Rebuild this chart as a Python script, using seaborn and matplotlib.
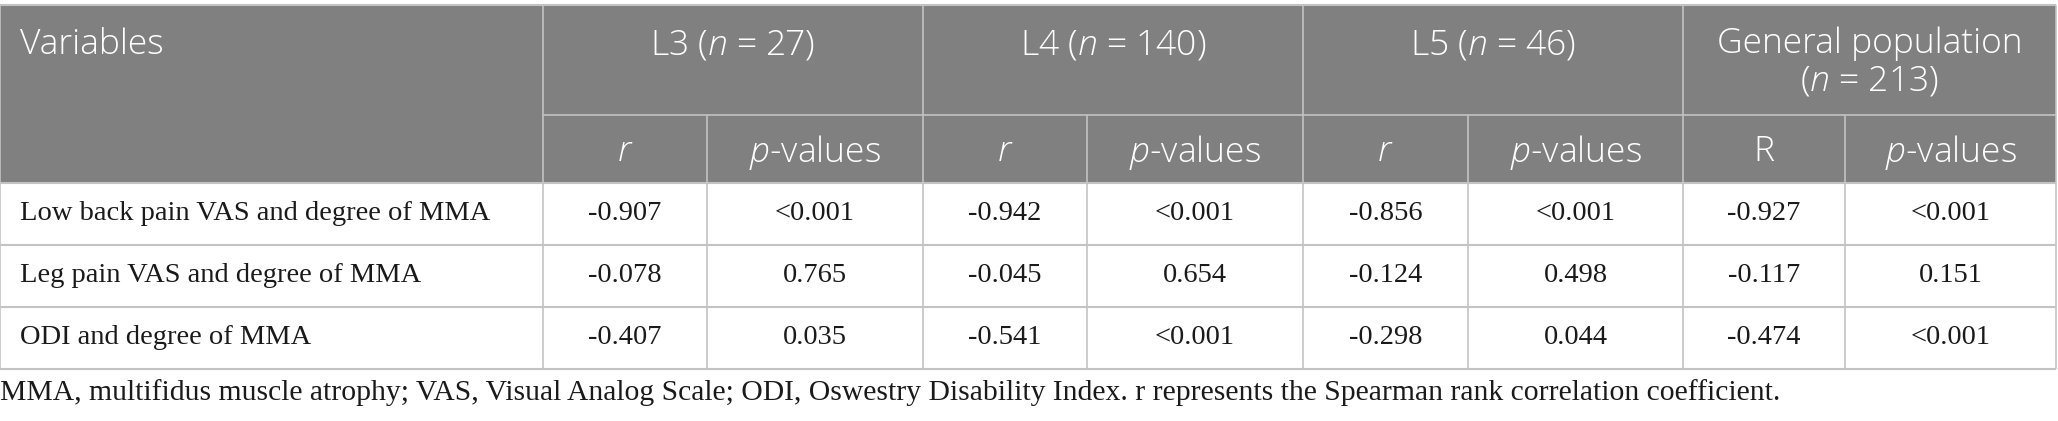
import numpy as np
import pandas as pd
import matplotlib
matplotlib.use("Agg")
import matplotlib.pyplot as plt
import seaborn as sns

# table content
variables = ["Low back pain VAS and degree of MMA",
             "Leg pain VAS and degree of MMA",
             "ODI and degree of MMA"]
groups = ["L3", "L4", "L5", "General population"]
group_n = [27, 140, 46, 213]
r_L3 = ["-0.907", "-0.078", "-0.407"]
p_L3 = ["<0.001", "0.765", "0.035"]
r_L4 = ["-0.942", "-0.045", "-0.541"]
p_L4 = ["<0.001", "0.654", "<0.001"]
r_L5 = ["-0.856", "-0.124", "-0.298"]
p_L5 = ["<0.001", "0.498", "0.044"]
r_all = ["-0.927", "-0.117", "-0.474"]
p_all = ["<0.001", "0.151", "<0.001"]
sub_heads = ["$r$", "$p$-values", "$r$", "$p$-values", "$r$", "$p$-values", "R", "$p$-values"]
footnote = ("MMA, multifidus muscle atrophy; VAS, Visual Analog Scale; ODI, Oswestry Disability Index. "
            "r represents the Spearman rank correlation coefficient.")

df = pd.DataFrame({"r_L3": r_L3, "p_L3": p_L3, "r_L4": r_L4, "p_L4": p_L4,
                   "r_L5": r_L5, "p_L5": p_L5, "r_all": r_all, "p_all": p_all},
                  index=variables)

sns.set_theme(style="white")
plt.rcParams["mathtext.fontset"] = "custom"
plt.rcParams["mathtext.it"] = "Open Sans:italic:light"
plt.rcParams["mathtext.rm"] = "Open Sans:light"

HEAD_BG = "#7f807f"
LINE = "#c3c3c3"
SANS = "Open Sans"
SERIF = "Liberation Serif"
HFS = 25.5

# layout in pixels
col_x = [0, 543, 707, 923, 1087, 1303, 1468, 1683, 1845, 2056]
top, mid, head_bot = 5, 115, 183
row_y = [183, 245, 307, 369]

fig = plt.figure(figsize=(20.58, 4.21), dpi=100)
ax = fig.add_axes([0, 0, 1, 1])
ax.set_xlim(0, 2058)
ax.set_ylim(421, 0)
ax.axis("off")

ax.add_patch(plt.Rectangle((col_x[0], top), col_x[-1] - col_x[0], head_bot - top,
                           facecolor=HEAD_BG, edgecolor="none"))

# grid lines
ax.hlines([top], col_x[0], col_x[-1], color=LINE, lw=1.5)
ax.hlines([mid], col_x[1], col_x[-1], color=LINE, lw=1.2)
ax.hlines(row_y, col_x[0], col_x[-1], color=LINE, lw=1.5)
ax.vlines([col_x[0], col_x[1], col_x[3], col_x[5], col_x[7], col_x[-1]], top, row_y[-1], color=LINE, lw=1.2)
ax.vlines([col_x[2], col_x[4], col_x[6], col_x[8]], mid, row_y[-1], color=LINE, lw=1.2)

# header
hkw = dict(color="white", fontsize=HFS, family=SANS, weight="light")
ax.text(20, 45, "Variables", ha="left", va="center", **hkw)
for i, (g, n) in enumerate(zip(groups, group_n)):
    cx = (col_x[1 + 2 * i] + col_x[3 + 2 * i]) / 2
    if g == "General population":
        ax.text(cx, 44, g, ha="center", va="center", **hkw)
        ax.text(cx, 81, f"($n$ = {n})", ha="center", va="center", **hkw)
    else:
        ax.text(cx, 45, f"{g} ($n$ = {n})", ha="center", va="center", **hkw)
for j, s in enumerate(sub_heads):
    cx = (col_x[1 + j] + col_x[2 + j]) / 2
    ax.text(cx, 152, s, ha="center", va="center", **hkw)

# body
for i, var in enumerate(df.index):
    cy = (row_y[i] + row_y[i + 1]) / 2
    ax.text(20, cy, var, ha="left", va="center", color="#1a1a1a", fontsize=20.5, family=SERIF)
    for j, col in enumerate(df.columns):
        cx = (col_x[1 + j] + col_x[2 + j]) / 2
        ax.text(cx, cy, df.loc[var, col], ha="center", va="center", color="#1a1a1a", fontsize=20.5, family=SERIF)

ax.text(0, 393, footnote, ha="left", va="center", color="#1a1a1a", fontsize=21.3, family=SERIF)

fig.savefig("out.png", dpi=100)
